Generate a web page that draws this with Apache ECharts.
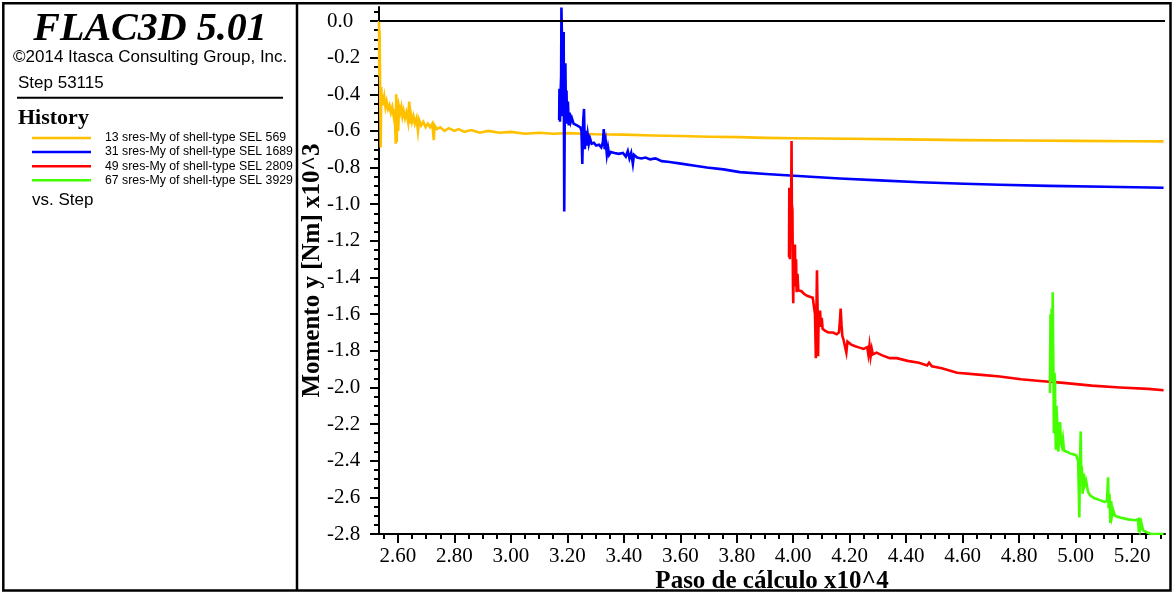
<!DOCTYPE html>
<html>
<head>
<meta charset="utf-8">
<script src="https://cdn.jsdelivr.net/npm/echarts@6/dist/echarts.min.js"></script>
<style>
  html, body { margin: 0; padding: 0; background: #ffffff; }
  #chart { width: 1175px; height: 596px; }
</style>
</head>
<body>
<div id="chart"></div>
<script>
// History records: [step x10^4, moment y (Nm) x10^3]
const seriesNames = [
  '13 sres-My of shell-type SEL 569',
  '31 sres-My of shell-type SEL 1689',
  '49 sres-My of shell-type SEL 2809',
  '67 sres-My of shell-type SEL 3929'
];
const seriesColors = ['#ffc000', '#0000ff', '#ff0000', '#44ff00'];

const hist13 = [
  [2.533, 0.0], [2.534, -0.30], [2.535, -0.05], [2.537, -0.35], [2.539, -0.69], [2.541, -0.36],
  [2.543, -0.45], [2.546, -0.40], [2.549, -0.46], [2.552, -0.42], [2.556, -0.47], [2.560, -0.44],
  [2.565, -0.48], [2.570, -0.46], [2.575, -0.50], [2.580, -0.47], [2.585, -0.52], [2.589, -0.48],
  [2.592, -0.67], [2.594, -0.40], [2.596, -0.66], [2.598, -0.43], [2.601, -0.60], [2.604, -0.47],
  [2.608, -0.50], [2.612, -0.47], [2.616, -0.52], [2.620, -0.49], [2.625, -0.53], [2.630, -0.50],
  [2.636, -0.55], [2.640, -0.44], [2.643, -0.56], [2.646, -0.51], [2.650, -0.55], [2.655, -0.52],
  [2.660, -0.56], [2.666, -0.53], [2.671, -0.60], [2.675, -0.54], [2.682, -0.57], [2.690, -0.55],
  [2.698, -0.58], [2.706, -0.56], [2.714, -0.58], [2.722, -0.56], [2.727, -0.65], [2.730, -0.57],
  [2.738, -0.59], [2.750, -0.58], [2.765, -0.60], [2.780, -0.585], [2.800, -0.60], [2.815, -0.59],
  [2.835, -0.605], [2.860, -0.595], [2.890, -0.61], [2.920, -0.60], [2.960, -0.61], [3.000, -0.605],
  [3.050, -0.615], [3.100, -0.61], [3.150, -0.615], [3.200, -0.612], [3.300, -0.618], [3.400, -0.62],
  [3.500, -0.625], [3.600, -0.628], [3.700, -0.632], [3.810, -0.634], [3.900, -0.638], [4.000, -0.64],
  [4.200, -0.643], [4.400, -0.646], [4.600, -0.65], [4.800, -0.652], [5.000, -0.654], [5.200, -0.656],
  [5.3115, -0.657]
];

const hist31 = [
  [3.171, -0.54], [3.172, -0.37], [3.174, -0.55], [3.176, -0.40], [3.178, -0.30], [3.179, 0.074],
  [3.181, -0.10], [3.183, -0.52], [3.185, -0.20], [3.187, -0.06], [3.188, -0.55], [3.189, -1.04],
  [3.191, -0.45], [3.193, -0.23], [3.195, -0.50], [3.197, -0.38], [3.199, -0.56], [3.202, -0.44],
  [3.205, -0.57], [3.208, -0.50], [3.212, -0.55], [3.216, -0.53], [3.222, -0.56], [3.228, -0.55],
  [3.234, -0.57], [3.240, -0.565], [3.246, -0.58], [3.250, -0.60], [3.253, -0.78], [3.256, -0.55],
  [3.259, -0.48], [3.262, -0.70], [3.265, -0.60], [3.268, -0.68], [3.272, -0.62], [3.276, -0.67],
  [3.280, -0.64], [3.286, -0.67], [3.294, -0.665], [3.302, -0.68], [3.312, -0.675], [3.320, -0.69],
  [3.326, -0.66], [3.329, -0.59], [3.332, -0.70], [3.336, -0.66], [3.340, -0.73], [3.344, -0.69],
  [3.348, -0.73], [3.354, -0.715], [3.367, -0.72], [3.382, -0.725], [3.397, -0.72], [3.407, -0.74],
  [3.414, -0.71], [3.420, -0.75], [3.426, -0.72], [3.432, -0.78], [3.436, -0.73], [3.447, -0.745],
  [3.462, -0.75], [3.477, -0.745], [3.493, -0.755], [3.512, -0.75], [3.534, -0.765], [3.562, -0.77],
  [3.608, -0.78], [3.652, -0.79], [3.694, -0.80], [3.753, -0.81], [3.811, -0.825], [3.903, -0.835],
  [4.003, -0.845], [4.165, -0.86], [4.305, -0.87], [4.448, -0.88], [4.605, -0.888], [4.732, -0.894],
  [4.905, -0.90], [5.105, -0.905], [5.3115, -0.91]
];

const hist49 = [
  [3.985, -1.29], [3.986, -0.91], [3.988, -1.30], [3.990, -0.95], [3.992, -1.10], [3.994, -0.655],
  [3.995, -1.00], [3.997, -1.03], [3.999, -1.45], [4.000, -1.54], [4.002, -1.25], [4.004, -1.40],
  [4.006, -1.22], [4.008, -1.45], [4.010, -1.30], [4.012, -1.48], [4.015, -1.38], [4.018, -1.47],
  [4.023, -1.46], [4.029, -1.475], [4.039, -1.49], [4.049, -1.50], [4.059, -1.505], [4.069, -1.51],
  [4.074, -1.52], [4.077, -1.60], [4.080, -1.84], [4.082, -1.60], [4.084, -1.36], [4.086, -1.55],
  [4.088, -1.83], [4.090, -1.60], [4.092, -1.66], [4.095, -1.58], [4.098, -1.67], [4.101, -1.62],
  [4.104, -1.68], [4.112, -1.69], [4.124, -1.70], [4.141, -1.70], [4.154, -1.71], [4.162, -1.70],
  [4.166, -1.62], [4.168, -1.57], [4.171, -1.66], [4.174, -1.72], [4.178, -1.74], [4.182, -1.73],
  [4.188, -1.81], [4.192, -1.75], [4.204, -1.765], [4.219, -1.775], [4.229, -1.78], [4.249, -1.79],
  [4.262, -1.78], [4.266, -1.82], [4.270, -1.77], [4.274, -1.83], [4.278, -1.79], [4.282, -1.82],
  [4.295, -1.81], [4.315, -1.825], [4.342, -1.84], [4.367, -1.84], [4.405, -1.855], [4.445, -1.865],
  [4.474, -1.88], [4.481, -1.865], [4.491, -1.885], [4.526, -1.895], [4.580, -1.92], [4.656, -1.93],
  [4.732, -1.94], [4.806, -1.955], [4.874, -1.965], [4.957, -1.975], [5.057, -1.99], [5.157, -2.00],
  [5.257, -2.008], [5.3115, -2.015]
];

const hist67 = [
  [4.909, -2.03], [4.911, -1.60], [4.913, -1.97], [4.915, -1.57], [4.917, -1.80], [4.919, -1.48],
  [4.920, -1.70], [4.921, -1.87], [4.922, -2.00], [4.923, -2.25], [4.925, -1.92], [4.927, -1.96],
  [4.928, -2.20], [4.930, -2.34], [4.932, -2.10], [4.935, -2.19], [4.937, -2.30], [4.939, -2.35],
  [4.942, -2.22], [4.945, -2.19], [4.948, -2.30], [4.951, -2.32], [4.955, -2.28], [4.959, -2.345],
  [4.967, -2.35], [4.980, -2.36], [4.992, -2.365], [5.002, -2.37], [5.009, -2.40], [5.011, -2.55],
  [5.013, -2.71], [5.015, -2.45], [5.018, -2.24], [5.020, -2.50], [5.022, -2.43], [5.025, -2.58],
  [5.029, -2.47], [5.033, -2.53], [5.037, -2.51], [5.044, -2.57], [5.052, -2.59], [5.067, -2.605],
  [5.086, -2.615], [5.102, -2.625], [5.111, -2.62], [5.115, -2.49], [5.117, -2.66], [5.120, -2.58],
  [5.123, -2.74], [5.126, -2.62], [5.129, -2.70], [5.133, -2.67], [5.139, -2.70], [5.157, -2.71],
  [5.186, -2.72], [5.212, -2.725], [5.221, -2.72], [5.224, -2.79], [5.226, -2.71], [5.229, -2.77],
  [5.233, -2.74], [5.239, -2.78], [5.251, -2.79], [5.267, -2.80], [5.286, -2.80], [5.3115, -2.80]
];

const histories = [hist13, hist31, hist49, hist67];

// Axis ranges and labelled ticks
const xRange = [2.533, 5.3165];
const yRange = [-2.8, 0.076];
const xMajorTicks = [2.6, 2.8, 3.0, 3.2, 3.4, 3.6, 3.8, 4.0, 4.2, 4.4, 4.6, 4.8, 5.0, 5.2];
const yMajorTicks = [0.0, -0.2, -0.4, -0.6, -0.8, -1.0, -1.2, -1.4, -1.6, -1.8, -2.0, -2.2, -2.4, -2.6, -2.8];

// Minor ticks every 0.05 between the labelled ones
function minorTicks(range) {
  const out = [];
  for (let k = Math.ceil(range[0] / 0.05 - 1e-9); k * 0.05 <= range[1] + 1e-9; k++) {
    if (k % 4 !== 0) out.push(+(k * 0.05).toFixed(2));
  }
  return out;
}

const SERIF = "'Liberation Serif', 'Times New Roman', serif";
const SANS = "'Liberation Sans', Arial, sans-serif";

const gridBox = { left: 379, top: 7.08, width: 786, height: 526.92, outerBoundsMode: 'none', containLabel: false };

const chart = echarts.init(document.getElementById('chart'), null, { renderer: 'canvas' });

const series = histories.map((d, i) => ({
  type: 'line',
  name: seriesNames[i],
  data: d,
  xAxisIndex: 0,
  yAxisIndex: 0,
  showSymbol: false,
  symbol: 'none',
  sampling: false,
  animation: false,
  z: 3,
  lineStyle: { color: seriesColors[i], width: 2.6, join: 'miter' },
  itemStyle: { color: seriesColors[i] },
  emphasis: { disabled: true }
}));

// zero reference line
series[0].markLine = {
  silent: true,
  symbol: 'none',
  label: { show: false },
  lineStyle: { color: '#000', width: 2, type: 'solid' },
  emphasis: { disabled: true },
  data: [{ yAxis: 0 }]
};

const option = {
  backgroundColor: '#ffffff',
  animation: false,
  grid: [Object.assign({}, gridBox), Object.assign({}, gridBox)],
  xAxis: [
    {
      type: 'value', gridIndex: 0, min: xRange[0], max: xRange[1],
      axisLine: { show: true, onZero: false, lineStyle: { color: '#000', width: 2 } },
      axisTick: { show: true, customValues: xMajorTicks, length: 9, lineStyle: { color: '#000', width: 2 } },
      axisLabel: {
        show: true, customValues: xMajorTicks, margin: 12,
        formatter: v => v.toFixed(2),
        fontFamily: SERIF, fontSize: 21, color: '#000'
      },
      splitLine: { show: false },
      name: 'Paso de cálculo x10^4', nameLocation: 'middle', nameGap: 35, nameMoveOverlap: false,
      nameTextStyle: { fontFamily: SERIF, fontWeight: 'bold', fontSize: 25, color: '#000' }
    },
    {
      type: 'value', gridIndex: 1, min: xRange[0], max: xRange[1],
      axisLine: { show: false, onZero: false },
      axisTick: { show: true, customValues: minorTicks(xRange), length: 5, lineStyle: { color: '#000', width: 2 } },
      axisLabel: { show: false },
      splitLine: { show: false }
    }
  ],
  yAxis: [
    {
      type: 'value', gridIndex: 0, min: yRange[0], max: yRange[1],
      axisLine: { show: true, onZero: false, lineStyle: { color: '#000', width: 2 } },
      axisTick: { show: true, customValues: yMajorTicks, length: 9, lineStyle: { color: '#000', width: 2 } },
      axisLabel: {
        show: true, customValues: yMajorTicks, margin: 52, align: 'left',
        formatter: v => (Math.abs(v) < 1e-9 ? '0.0' : v.toFixed(1)),
        fontFamily: SERIF, fontSize: 21, color: '#000'
      },
      splitLine: { show: false },
      name: 'Momento y [Nm] x10^3', nameLocation: 'middle', nameGap: 54, nameMoveOverlap: false,
      nameTextStyle: { fontFamily: SERIF, fontWeight: 'bold', fontSize: 25, color: '#000' }
    },
    {
      type: 'value', gridIndex: 1, min: yRange[0], max: yRange[1],
      axisLine: { show: false, onZero: false },
      axisTick: { show: true, customValues: minorTicks(yRange), length: 5, lineStyle: { color: '#000', width: 2 } },
      axisLabel: { show: false },
      splitLine: { show: false }
    }
  ],
  legend: {
    orient: 'vertical',
    left: 32,
    top: 132,
    padding: 0,
    itemWidth: 59,
    itemHeight: 2.5,
    itemGap: 2.1,
    icon: 'rect',
    selectedMode: false,
    data: seriesNames,
    textStyle: {
      fontFamily: SANS, fontSize: 12.3, lineHeight: 12, color: '#000',
      padding: [0, 0, 0, 9], width: 196, overflow: 'truncate', ellipsis: ''
    }
  },
  graphic: [
    {
      type: 'text', x: 150, y: 30, z: 100,
      style: { text: 'FLAC3D 5.01', fill: '#000', font: 'italic bold 40px ' + SERIF, align: 'center', verticalAlign: 'middle' }
    },
    {
      type: 'text', x: 13, y: 57, z: 100,
      style: { text: '©2014 Itasca Consulting Group, Inc.', fill: '#000', font: '17px ' + SANS, align: 'left', verticalAlign: 'middle' }
    },
    {
      type: 'text', x: 18, y: 83, z: 100,
      style: { text: 'Step 53115', fill: '#000', font: '17px ' + SANS, align: 'left', verticalAlign: 'middle' }
    },
    {
      type: 'line', z: 100,
      shape: { x1: 17, y1: 97.7, x2: 283, y2: 97.7 },
      style: { stroke: '#000', lineWidth: 2 }
    },
    {
      type: 'text', x: 18, y: 118, z: 100,
      style: { text: 'History', fill: '#000', font: 'bold 22px ' + SERIF, align: 'left', verticalAlign: 'middle' }
    },
    {
      type: 'text', x: 32, y: 200, z: 100,
      style: { text: 'vs. Step', fill: '#000', font: '17px ' + SANS, align: 'left', verticalAlign: 'middle' }
    },
    {
      type: 'rect', z: 100,
      shape: { x: 3.3, y: 3.3, width: 1167.2, height: 587.2 },
      style: { fill: 'none', stroke: '#000', lineWidth: 2.5 }
    },
    {
      type: 'line', z: 100,
      shape: { x1: 297, y1: 3.3, x2: 297, y2: 590.5 },
      style: { stroke: '#000', lineWidth: 2.5 }
    }
  ],
  series: series
};

chart.setOption(option);
</script>
</body>
</html>
